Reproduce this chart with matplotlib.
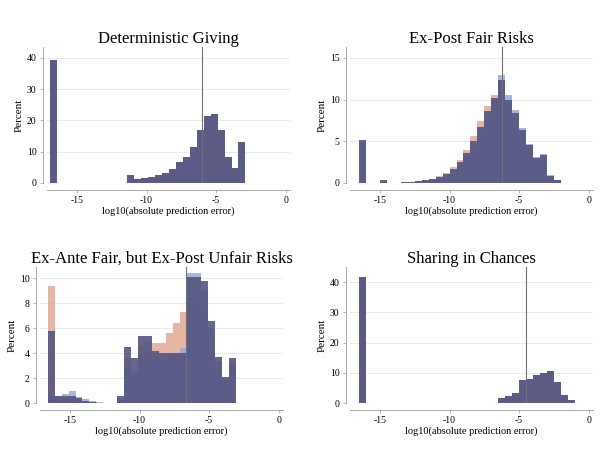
import matplotlib
matplotlib.use("Agg")
import matplotlib.pyplot as plt
import numpy as np

plt.rcParams['font.family'] = ['Liberation Serif', 'DejaVu Serif']

# ---------------- data ----------------
titles = ["Deterministic Giving", "Ex-Post Fair Risks",
          "Ex-Ante Fair, but Ex-Post Unfair Risks", "Sharing in Chances"]
x_label = "log10(absolute prediction error)"
y_label = "Percent"
x_ticks = [-15, -10, -5, 0]
bin_width = 0.5

# Panel 1: Deterministic Giving
p1_start = -16.9
p1_navy = [39.5] + [0] * 10 + [2.5, 1.2, 1.5, 1.9, 2.4, 3.2, 4.5, 6.8, 8.4, 11.6,
                              17.0, 21.5, 22.0, 17.0, 8.4, 4.8, 13.0]
p1_yticks = [0, 10, 20, 30, 40]
p1_median = -6.0

# Panel 2: Ex-Post Fair Risks
p2_start = -16.5
p2_navy = [5.1, 0, 0, 0.3, 0, 0.05] + [0.08, 0.12, 0.2, 0.3, 0.45, 0.7, 1.1, 1.7, 2.5, 3.6,
                                       5.0, 6.7, 8.6, 10.2, 12.3, 9.9, 8.4, 6.3, 4.5, 3.0,
                                       3.4, 0.8, 0.3]
p2_salmon = [4.8, 0, 0, 0.2, 0, 0.05] + [0.08, 0.12, 0.2, 0.3, 0.5, 0.8, 1.2, 1.9, 2.8, 4.0,
                                         5.6, 7.4, 9.2, 10.6, 11.3, 9.3, 7.8, 5.8, 4.2, 2.8,
                                         3.1, 0.7, 0.3]
p2_blue = [4.9, 0, 0, 0.2, 0, 0.05] + [0.05, 0.1, 0.15, 0.25, 0.4, 0.6, 0.9, 1.5, 2.2, 3.2,
                                       4.6, 6.2, 8.2, 10.0, 13.0, 10.5, 8.8, 6.6, 4.7, 3.1,
                                       3.5, 0.9, 0.3]
p2_yticks = [0, 5, 10, 15]
p2_median = -6.2

# Panel 3: Ex-Ante Fair, but Ex-Post Unfair Risks
p3_start = -16.6
p3_navy = [5.8, 0.6, 0.6, 0.6, 0.4, 0.2, 0.05, 0, 0, 0] + [0.6, 4.5, 3.6, 5.4, 5.4, 4.2, 4.0, 4.0, 4.0,
                                                           4.0, 10.1, 10.1, 9.8, 6.6, 3.7, 2.1, 3.6]
p3_salmon = [9.4, 0.3, 0.3, 0.3, 0.2, 0.1, 0, 0, 0, 0] + [0.3, 3.6, 2.5, 4.6, 5.0, 4.8, 4.8, 5.6, 6.4,
                                                          7.3, 8.4, 8.0, 7.4, 5.5, 3.0, 1.8, 3.0]
p3_blue = [0.6, 0.5, 0.7, 1.0, 0.5, 0.3, 0.15, 0.05, 0, 0] + [0.3, 3.2, 2.2, 4.0, 4.2, 3.8, 3.6, 3.8, 4.0,
                                                              4.4, 10.4, 10.4, 9.0, 6.0, 3.4, 2.0, 3.2]
p3_yticks = [0, 2, 4, 6, 8, 10]
p3_median = -6.7

# Panel 4: Sharing in Chances
p4_start = -16.5
p4_navy = [41.7] + [0] * 19 + [1.6, 2.3, 3.3, 7.7, 8.0, 9.4, 9.8, 10.7, 7.1, 2.7, 1.1]
p4_yticks = [0, 10, 20, 30, 40]
p4_median = -4.5

# ---------------- style ----------------
NAVY = '#52527f'
SALMON = '#e3a894'
LBLUE = '#93acd4'
W, H = 606, 465

fig = plt.figure(figsize=(W / 100, H / 100), dpi=100)
fig.patch.set_facecolor('white')


def make_ax(left_px, zero_px, top_px, width_px=243):
    return fig.add_axes([left_px / W, (H - zero_px) / H, width_px / W, (zero_px - top_px) / H])


def draw(ax, title, start, groups, yticks, ymax, median):
    for heights, color, alpha in groups:
        h = np.asarray(heights, dtype=float)
        lefts = start + bin_width * np.arange(len(h))
        ax.bar(lefts, h, width=bin_width, align='edge', color=color, alpha=alpha,
               linewidth=0, zorder=2)
    ax.axvline(median, color='#707070', lw=0.8, zorder=3)
    ax.set_xlim(-17.15, 0.3)
    ax.set_ylim(0, ymax)
    ax.set_xticks(x_ticks)
    ax.set_xticklabels([str(t) for t in x_ticks])
    ax.set_yticks(yticks)
    ax.set_yticklabels([str(t) for t in yticks], rotation=90, va='center')
    ax.grid(axis='y', color='#e6ebef', lw=0.7, zorder=0)
    ax.set_axisbelow(True)
    for s in ['top', 'right']:
        ax.spines[s].set_visible(False)
    ax.spines['bottom'].set_position(('outward', 5))
    ax.spines['left'].set_position(('outward', 3))
    for s in ['bottom', 'left']:
        ax.spines[s].set_color('#9a9a9a')
        ax.spines[s].set_linewidth(0.6)
    ax.tick_params(axis='both', labelsize=7, length=2.5, width=0.5, color='#9a9a9a', pad=2)
    ax.set_xlabel(x_label, fontsize=7.5, labelpad=1)
    ax.set_ylabel(y_label, fontsize=8, labelpad=2)
    ax.set_title(title, fontsize=12, pad=3)


ax1 = make_ax(47, 183, 47)
draw(ax1, titles[0], p1_start, [(p1_navy, NAVY, 0.95)], p1_yticks, 43.5, p1_median)

ax2 = make_ax(350, 183, 47)
draw(ax2, titles[1], p2_start,
     [(p2_salmon, SALMON, 0.85), (p2_blue, LBLUE, 0.85), (p2_navy, NAVY, 0.88)],
     p2_yticks, 16.3, p2_median)

ax3 = make_ax(40, 403, 267)
draw(ax3, titles[2], p3_start,
     [(p3_salmon, SALMON, 0.85), (p3_blue, LBLUE, 0.85), (p3_navy, NAVY, 0.88)],
     p3_yticks, 10.9, p3_median)

ax4 = make_ax(350, 403, 267)
draw(ax4, titles[3], p4_start, [(p4_navy, NAVY, 0.95)], p4_yticks, 45.0, p4_median)

fig.savefig('out.png', dpi=100, facecolor='white')
